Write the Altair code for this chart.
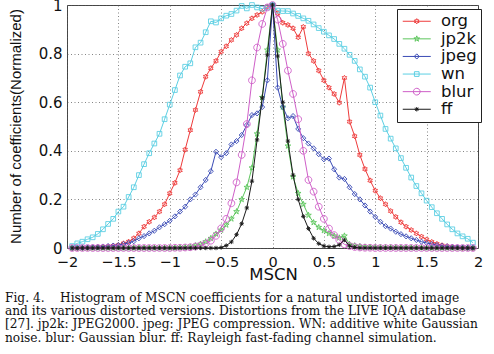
import altair as alt
import pandas as pd

# ---------------- data ----------------
SERIES = ["org", "jp2k", "jpeg", "wn", "blur", "ff"]
COLORS = ["#ee3b3b", "#5cc65c", "#3a4bb5", "#5ccfe3", "#cf5fc8", "#1a1a1a"]

MSCN = [round(-1.95 + 0.05 * i, 2) for i in range(79)]

org = [0.0, 0.0, 0.001, 0.001, 0.002, 0.003, 0.004, 0.006, 0.009, 0.012,
       0.019, 0.026, 0.04, 0.06, 0.088, 0.108, 0.126, 0.15, 0.18, 0.225,
       0.268, 0.32, 0.405, 0.485, 0.568, 0.643, 0.705, 0.74, 0.77, 0.808,
       0.83, 0.856, 0.877, 0.904, 0.925, 0.945, 0.959, 0.972, 0.993,
       1.0,
       0.966, 0.927, 0.918, 0.904, 0.867, 0.91, 0.80, 0.77, 0.73, 0.69,
       0.66, 0.634, 0.598, 0.70, 0.52, 0.46, 0.383, 0.325, 0.278, 0.236,
       0.205, 0.18, 0.152, 0.128, 0.106, 0.088, 0.074, 0.06, 0.047, 0.035,
       0.025, 0.017, 0.011, 0.007, 0.004, 0.002, 0.001, 0.001, 0.0]

jp2k = [0.0] * 21 + [0.002, 0.003, 0.005, 0.01, 0.016, 0.026, 0.04, 0.058,
        0.074, 0.095, 0.12, 0.15, 0.2, 0.25, 0.33, 0.47, 0.62, 0.815] + \
       [1.0] + \
       [0.815, 0.58, 0.42, 0.293, 0.225, 0.18, 0.135, 0.105, 0.085, 0.072,
        0.06, 0.05, 0.042, 0.05, 0.015, 0.01, 0.007, 0.005, 0.004,
        0.003, 0.003, 0.002, 0.002, 0.002, 0.001, 0.001, 0.001, 0.001, 0.001,
        0.0, 0.0, 0.0, 0.0, 0.0, 0.0, 0.0, 0.0, 0.0, 0.0]

jpeg = [0.0, 0.001, 0.001, 0.002, 0.003, 0.004, 0.006, 0.008, 0.01, 0.012,
        0.016, 0.021, 0.028, 0.04, 0.049, 0.06, 0.071, 0.085, 0.098, 0.112,
        0.13, 0.15, 0.17, 0.2, 0.22, 0.25, 0.28, 0.316, 0.396, 0.374,
        0.39, 0.426, 0.44, 0.465, 0.506, 0.547, 0.554, 0.58, 0.69,
        1.0,
        0.66, 0.58, 0.534, 0.543, 0.49, 0.452, 0.43, 0.41, 0.386, 0.365,
        0.368, 0.324, 0.29, 0.284, 0.25, 0.222, 0.2, 0.175, 0.15, 0.128,
        0.108, 0.09, 0.08, 0.067, 0.057, 0.048, 0.04, 0.033, 0.026, 0.021,
        0.016, 0.012, 0.009, 0.007, 0.005, 0.003, 0.002, 0.001, 0.001]

wn = [0.008, 0.019, 0.026, 0.036, 0.044, 0.058, 0.077, 0.099, 0.12, 0.15,
      0.17, 0.21, 0.25, 0.30, 0.345, 0.39, 0.43, 0.47, 0.53, 0.59,
      0.65, 0.71, 0.746, 0.76, 0.826, 0.845, 0.888, 0.933, 0.928, 0.945,
      0.956, 0.963, 0.977, 0.996, 0.986, 1.0, 0.99, 0.985, 0.99,
      1.0,
      0.977, 0.975, 0.975, 0.965, 0.955, 0.945, 0.935, 0.92, 0.905, 0.89,
      0.875, 0.86, 0.84, 0.82, 0.795, 0.77, 0.735, 0.705, 0.66, 0.60,
      0.545, 0.49, 0.45, 0.41, 0.37, 0.33, 0.29, 0.255, 0.225, 0.195,
      0.168, 0.143, 0.12, 0.097, 0.077, 0.06, 0.048, 0.038, 0.022]

blur = [0.0] * 20 + [0.001, 0.001, 0.002, 0.003, 0.006, 0.01, 0.018, 0.03,
        0.05, 0.081, 0.12, 0.184, 0.27, 0.383, 0.51, 0.69, 0.825, 0.922,
        0.99] + \
       [1.0] + \
       [0.94, 0.84, 0.73, 0.634, 0.53, 0.40, 0.28, 0.232, 0.17, 0.12,
        0.08, 0.053, 0.033, 0.015, 0.008, 0.004, 0.002, 0.001, 0.001] + [0.0] * 20

ff = [0.0] * 29 + [0.002, 0.01, 0.025, 0.055, 0.1, 0.165, 0.275, 0.445,
      0.618, 0.795] + \
     [1.0] + \
     [0.79, 0.6, 0.44, 0.3, 0.2, 0.13, 0.08, 0.04, 0.018, 0.008,
      0.005, 0.006, 0.013, 0.033, 0.008, 0.003] + [0.0] * 23

X_TICKS = [-2, -1.5, -1, -0.5, 0, 0.5, 1, 1.5, 2]
Y_TICKS = [0, 0.2, 0.4, 0.6, 0.8, 1]

CAPTION = [
    "Fig. 4.\u00a0\u00a0\u00a0\u00a0Histogram of MSCN coefficients for a natural undistorted image",
    "and its various distorted versions. Distortions from the LIVE IQA database",
    "[27]. jp2k: JPEG2000. jpeg: JPEG compression. WN: additive white Gaussian",
    "noise. blur: Gaussian blur. ff: Rayleigh fast-fading channel simulation.",
]

values = {"org": org, "jp2k": jp2k, "jpeg": jpeg, "wn": wn, "blur": blur, "ff": ff}
rows = []
for s in SERIES:
    for xv, yv in zip(MSCN, values[s]):
        rows.append({"series": s, "mk": s, "MSCN": xv, "value": yv})
df = pd.DataFrame(rows)

# ---------------- marker shapes ----------------
HEX = [(0, -1), (0.289, -0.5), (0.866, -0.5), (0.577, 0), (0.866, 0.5), (0.289, 0.5),
       (0, 1), (-0.289, 0.5), (-0.866, 0.5), (-0.577, 0), (-0.866, -0.5), (-0.289, -0.5)]
PENT = [(0, -1), (0.225, -0.309), (0.951, -0.309), (0.363, 0.118), (0.588, 0.809),
        (0, 0.382), (-0.588, 0.809), (-0.363, 0.118), (-0.951, -0.309), (-0.225, -0.309)]
DIAM = [(0, -1), (0.95, 0), (0, 1), (-0.95, 0)]
SQR = [(-0.9, -0.9), (0.9, -0.9), (0.9, 0.9), (-0.9, 0.9)]


def poly(pts, s):
    return "M" + "L".join(f"{x * s:.3f},{y * s:.3f}" for x, y in pts) + "Z"


def circ(r):
    return f"M{r:.3f},0A{r:.3f},{r:.3f},0,1,1,{-r:.3f},0A{r:.3f},{r:.3f},0,1,1,{r:.3f},0Z"


def aster(s):
    d = 0.7 * s
    return (f"M{-s:.3f},0L{s:.3f},0M0,{-s:.3f}L0,{s:.3f}"
            f"M{-d:.3f},{-d:.3f}L{d:.3f},{d:.3f}M{-d:.3f},{d:.3f}L{d:.3f},{-d:.3f}")


def marker(name, s):
    return {
        "org": poly(HEX, s),
        "jp2k": poly(PENT, 1.15 * s),
        "jpeg": poly(DIAM, s),
        "wn": poly(SQR, s),
        "blur": circ(1.3 * s),
        "ff": aster(0.85 * s),
    }[name]


LEG_SHAPES = ["M-2,0L2,0" + marker(s, 0.371) for s in SERIES]

sym_expr = ""
for s, p in zip(SERIES, LEG_SHAPES):
    sym_expr += f"datum.value === '{s}' ? '{p}' : "
sym_expr += "'circle'"

color_scale = alt.Scale(domain=SERIES, range=COLORS)
# shape scale listed in another order so that it is not folded into the colour legend
SHAPE_ORDER = list(reversed(SERIES))
shape_scale = alt.Scale(domain=SHAPE_ORDER, range=[marker(s, 1.0) for s in SHAPE_ORDER])

legend = alt.Legend(
    title=None, orient="none", legendX=330, legendY=4,
    padding=4, strokeColor="#222", fillColor="white", cornerRadius=0,
    labelFont="DejaVu Sans", labelFontSize=16.5, labelColor="#111",
    symbolSize=196, symbolOffset=7.5, labelOffset=16, rowPadding=0.6,
    symbolStrokeWidth=1, symbolType={"expr": sym_expr},
)

x_enc = alt.X(
    "MSCN:Q",
    scale=alt.Scale(domain=[-2, 2], nice=False, zero=False),
    axis=alt.Axis(
        values=X_TICKS, format="~g", title="MSCN", ticks=False, domain=False,
        grid=True, labelFont="DejaVu Sans", labelFontSize=14.5, labelColor="#111",
        labelPadding=7, labelFlush=False,
        titleFont="DejaVu Sans", titleFontSize=16.5, titleFontWeight="normal",
        titleColor="#111", titleX=206, titleY=31, titleBaseline="alphabetic",
        titleAlign="center",
    ),
)
y_enc = alt.Y(
    "value:Q",
    scale=alt.Scale(domain=[0, 1], nice=False),
    axis=alt.Axis(
        values=Y_TICKS, format="~g", title="Number of coefficients(Normalized)",
        ticks=False, domain=False, grid=True,
        labelFont="DejaVu Sans", labelFontSize=15, labelColor="#111", labelPadding=5,
        labelFlush=False,
        titleFont="Liberation Sans", titleFontSize=15, titleFontWeight="normal",
        titleColor="#111", titleX=-47, titleY=121, titleAngle=270,
        titleAlign="center", titleBaseline="alphabetic",
    ),
)

layers = []
for s, col in zip(SERIES, COLORS):
    base = alt.Chart().transform_filter(alt.datum.series == s)
    line = base.mark_line(strokeWidth=1, color=col).encode(x=x_enc, y=y_enc)
    pts = base.mark_point(filled=False, size=27, strokeWidth=0.9, opacity=1).encode(
        x=x_enc, y=y_enc,
        color=alt.Color("series:N", scale=color_scale, legend=legend),
        shape=alt.Shape("mk:N", scale=shape_scale, legend=None),
    )
    layers += [line, pts]

chart = alt.layer(*layers, data=df).properties(
    width=411, height=243,
    autosize=alt.AutoSizeParams(type="none"),
    padding={"left": 67, "top": 5, "right": 16, "bottom": 106},
    background="white",
    title=alt.TitleParams(
        text=CAPTION, orient="bottom", anchor="start", frame="group",
        dx=-62, offset=9, font="DejaVu Serif", fontSize=12.2,
        fontWeight="normal", color="#111", lineHeight=13.4, baseline="top",
    ),
).configure_view(
    stroke="#444", strokeWidth=1
).configure_axis(
    gridColor="#555", gridDash=[1, 2.5], gridWidth=0.8, gridOpacity=0.9,
)

chart.save("out.html", embed_options={"renderer": "svg", "actions": False})
